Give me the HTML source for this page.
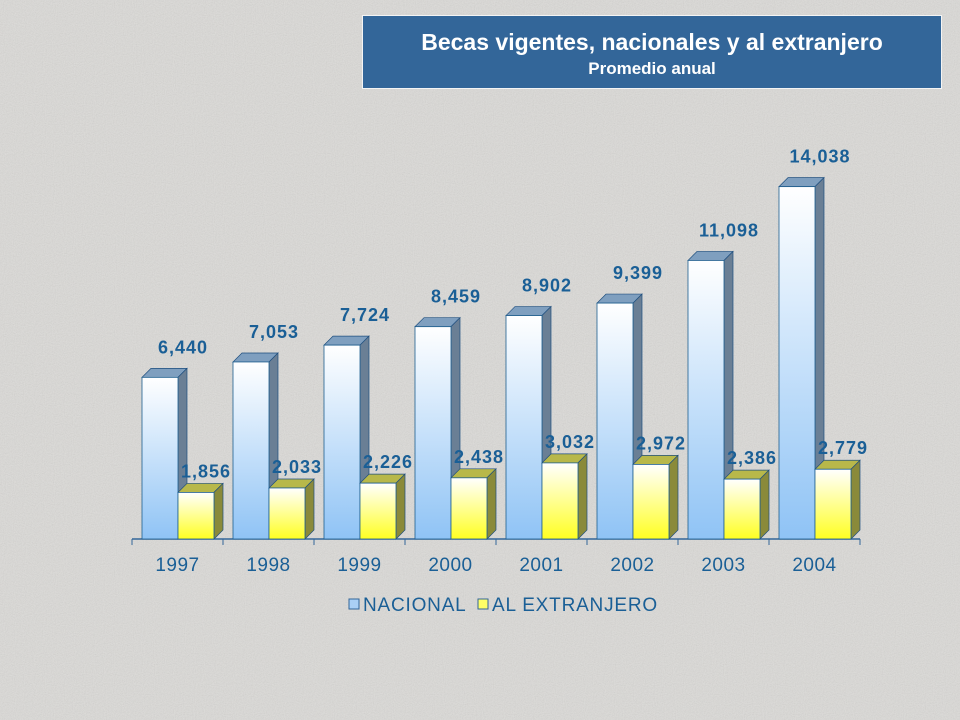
<!DOCTYPE html>
<html><head><meta charset="utf-8"><style>
body{margin:0;width:960px;height:720px;overflow:hidden;background:#dcdbd8;font-family:"Liberation Sans",sans-serif}
#title{position:absolute;left:362px;top:15px;width:578px;height:72px;background:#336699;border:1px solid #f4f4f4;color:#fff;text-align:center}
#title .t{font-size:23px;font-weight:bold;margin-top:13px}
#title .s{font-size:17px;font-weight:bold;margin-top:3px}
svg{position:absolute;left:0;top:0}
</style></head><body>
<svg width="960" height="720">
<defs>
<filter id="n"><feTurbulence type="fractalNoise" baseFrequency="0.9" numOctaves="2" seed="3"/><feColorMatrix type="saturate" values="0"/><feComponentTransfer><feFuncA type="linear" slope="0" intercept="0.25"/></feComponentTransfer></filter>
</defs>
<rect width="960" height="720" fill="#dcdbd8"/>
<rect width="960" height="720" filter="url(#n)" opacity="0.6"/>
</svg>
<div id="title">
<div class="t">Becas vigentes, nacionales y al extranjero</div>
<div class="s">Promedio anual</div>
</div>
<svg id="chart" width="960" height="720">
<defs>
<linearGradient id="gb" x1="0" y1="0" x2="0" y2="1"><stop offset="0" stop-color="#ffffff"/><stop offset="1" stop-color="#8fc3f5"/></linearGradient>
<linearGradient id="gy" x1="0" y1="0" x2="0" y2="1"><stop offset="0" stop-color="#ffffff"/><stop offset="1" stop-color="#ffff22"/></linearGradient>
</defs>
</svg>
<script>
const categories=["1997","1998","1999","2000","2001","2002","2003","2004"];
const nacional=[6440,7053,7724,8459,8902,9399,11098,14038];
const extranjero=[1856,2033,2226,2438,3032,2972,2386,2779];
const svg=document.getElementById('chart');
const NS='http://www.w3.org/2000/svg';
const x0=132,catW=91,base=539,k=0.0251,dx=9,dy=9,bw=36;
const xs=i=>x0+i*catW;
const ys=v=>base-v*k;
function mk(t,a){const e=document.createElementNS(NS,t);for(const q in a)e.setAttribute(q,a[q]);svg.appendChild(e);return e;}
const ax=mk('line',{x1:x0,y1:base,x2:x0+catW*8,y2:base,stroke:'#336699','stroke-width':1.5});


for(let i=0;i<=8;i++){const t=mk('line',{x1:xs(i),y1:base,x2:xs(i),y2:base+6,stroke:'#336699'});

}
function bar(x,v,grad,top,side,name,lx,ly){
 const y=ys(v);
 const g=mk('g',{});
 
 
 const a=document.createElementNS(NS,'polygon');a.setAttribute('points',`${x},${y} ${x+dx},${y-dy} ${x+bw+dx},${y-dy} ${x+bw},${y}`);a.setAttribute('fill',top);a.setAttribute('stroke','#1f4f7f');a.setAttribute('stroke-width','0.7');g.appendChild(a);
 const b=document.createElementNS(NS,'polygon');b.setAttribute('points',`${x+bw},${y} ${x+bw+dx},${y-dy} ${x+bw+dx},${base-dy} ${x+bw},${base}`);b.setAttribute('fill',side);b.setAttribute('stroke','#1f4f7f');b.setAttribute('stroke-width','0.7');g.appendChild(b);
 const r=document.createElementNS(NS,'rect');r.setAttribute('x',x);r.setAttribute('y',y);r.setAttribute('width',bw);r.setAttribute('height',base-y);r.setAttribute('fill',grad);r.setAttribute('stroke','#1f5f8f');r.setAttribute('stroke-width','0.8');g.appendChild(r);
 const l=mk('text',{x:lx,y:y-dy-ly,'text-anchor':'middle','font-size':18,'font-weight':'bold',fill:'#1a5f96','letter-spacing':'1'});
 l.textContent=v.toLocaleString('en-US');
 
 
}
categories.forEach((c,i)=>{
 const bx=xs(i)+10;
 bar(bx,nacional[i],'url(#gb)','#7f9fbf','#6a7f95','bar-nacional-'+c,bx+bw/2+23,15);
 bar(bx+bw,extranjero[i],'url(#gy)','#b8b84a','#8a8a3a','bar-extranjero-'+c,bx+bw+bw/2+10,6);
 const t=mk('text',{x:xs(i)+catW/2,y:571,'text-anchor':'middle','font-size':19,fill:'#1a5f96','letter-spacing':'0.5'});
 t.textContent=c;
 
 
});
const lg=[['NACIONAL','#aad0f5',349],['AL EXTRANJERO','#ffff66',478]];
lg.forEach(([n,c,x])=>{
 const s=mk('rect',{x:x,y:599,width:10,height:10,fill:c,stroke:'#336699'});
 
 
 const t=mk('text',{x:x+14,y:611,'font-size':19,fill:'#1a5f96','letter-spacing':'0.8'});
 t.textContent=n;
 
 
});
</script>
</body></html>
